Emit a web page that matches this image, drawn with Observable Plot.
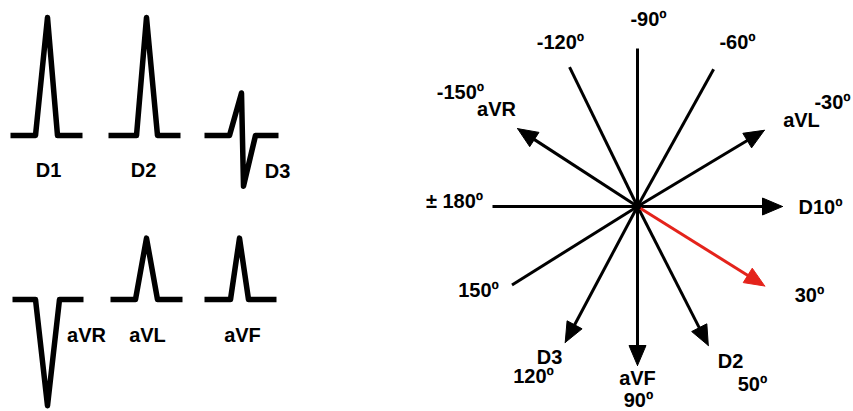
<!DOCTYPE html>
<html><head><meta charset="utf-8">
<script src="https://cdn.jsdelivr.net/npm/d3@7"></script>
<script src="https://cdn.jsdelivr.net/npm/@observablehq/plot@0.6"></script>
<style>body{margin:0;background:#fff;}</style>
</head><body><div id="chart"></div>
<script>
// ---- Data: limb-lead QRS complexes (time steps and relative amplitudes) ----
const waveLeads = ["D1", "D2", "D3", "aVR", "aVL", "aVF"];
const waveTimes = [
  [0, 25, 37, 47, 72],
  [0, 28, 38, 49, 72],
  [0, 25, 37, 39, 51, 74],
  [0, 23, 35, 47, 71],
  [0, 25, 36, 47, 72],
  [0, 26, 35, 44, 72]
];
const waveAmps = [
  [0, 0, 1.0, 0, 0],
  [0, 0, 1.0, 0, 0],
  [0, 0, 0.36, -0.43, 0, 0],
  [0, 0, -0.9, 0, 0],
  [0, 0, 0.52, 0, 0],
  [0, 0, 0.52, 0, 0]
];

// ---- Data: hexaxial reference system (drawn angle in degrees, length, arrow?) ----
const axisAngles  = [-90, -116, -61, -147, -31, 180, 0, 148, 118, 90, 63];
const axisLengths = [158, 155, 157, 143, 148, 145, 145, 148, 154, 159, 156];
const axisArrow   = [false, false, false, true, true, false, true, false, true, true, true];
const qrsAxisAngle = 32;
const qrsAxisLength = 150;

// ---- Data: text labels ----
const axisTexts = ["-90º", "-120º", "-60º", "-150º", "aVR", "aVL", "-30º", "± 180º", "D10º",
                   "150º", "D3", "120º", "aVF", "90º", "D2", "50º", "30º"];

// ---- Layout (pixels) ----
const W = 853, H = 411;
const waveOrigins = [[10, 135], [108, 135], [204, 135], [12, 299], [110, 299], [204, 299]];
const ampScale = 118;
const waveLabelPos = [[48, 170], [143, 170], [277, 171], [86, 335], [147, 335], [242, 335]];
const center = [637, 206];
const axisLabelPos = [[648, 19], [560, 42], [737, 42], [460, 92], [496, 109], [801, 120], [832, 102],
                      [454, 201], [820, 207], [478, 290], [549, 357], [533, 376], [637, 378],
                      [638, 400], [730, 361], [752, 384], [809, 295]];
const headLen = 20, headHalf = 8.5;
const red = "#e4231b";

// ---- Build mark data ----
const wavePts = [];
waveLeads.forEach((lead, i) => {
  waveTimes[i].forEach((t, j) => {
    wavePts.push({lead, x: waveOrigins[i][0] + t, y: waveOrigins[i][1] - waveAmps[i][j] * ampScale});
  });
});
const waveLabels = waveLeads.map((lead, i) => ({text: lead, x: waveLabelPos[i][0], y: waveLabelPos[i][1]}));

function polar(a, r) {
  const rad = a * Math.PI / 180;
  return [center[0] + r * Math.cos(rad), center[1] + r * Math.sin(rad)];
}
function head(id, a, L) {
  const rad = a * Math.PI / 180;
  const [tx, ty] = polar(a, L);
  const [bx, by] = polar(a, L - headLen);
  const px = -Math.sin(rad) * headHalf, py = Math.cos(rad) * headHalf;
  return [
    {id, x: tx, y: ty}, {id, x: bx + px, y: by + py}, {id, x: bx - px, y: by - py}, {id, x: tx, y: ty}
  ];
}
const axisSegs = [], axisHeads = [];
axisAngles.forEach((a, i) => {
  const L = axisArrow[i] ? axisLengths[i] - headLen + 3 : axisLengths[i];
  const [ex, ey] = polar(a, L);
  axisSegs.push({id: i, x: center[0], y: center[1]}, {id: i, x: ex, y: ey});
  if (axisArrow[i]) axisHeads.push(...head(i, a, axisLengths[i]));
});
const qrsEnd = polar(qrsAxisAngle, qrsAxisLength - headLen + 3);
const qrsSeg = [{x: center[0], y: center[1]}, {x: qrsEnd[0], y: qrsEnd[1]}];
const qrsHead = head("qrs", qrsAxisAngle, qrsAxisLength);
const axisLabels = axisTexts.map((t, i) => ({text: t, x: axisLabelPos[i][0], y: axisLabelPos[i][1]}));

const chart = Plot.plot({
  width: W, height: H, margin: 0,
  x: {domain: [0, W], range: [0, W], axis: null},
  y: {domain: [0, H], range: [0, H], axis: null},
  style: {background: "white", fontFamily: "'Liberation Sans', Arial, sans-serif"},
  marks: [
    Plot.line(wavePts, {x: "x", y: "y", z: "lead", stroke: "black", strokeWidth: 5.5,
      strokeLinejoin: "round", strokeLinecap: "butt"}),
    Plot.text(waveLabels, {x: "x", y: "y", text: "text", fontSize: 20, fontWeight: "bold", fill: "black"}),
    Plot.line(axisSegs, {x: "x", y: "y", z: "id", stroke: "black", strokeWidth: 3, strokeLinecap: "butt"}),
    Plot.line(axisHeads, {x: "x", y: "y", z: "id", fill: "black", stroke: "black", strokeWidth: 1}),
    Plot.line(qrsSeg, {x: "x", y: "y", stroke: red, strokeWidth: 3, strokeLinecap: "butt"}),
    Plot.line(qrsHead, {x: "x", y: "y", z: "id", fill: red, stroke: red, strokeWidth: 1}),
    Plot.dot([{x: center[0], y: center[1]}], {x: "x", y: "y", r: 3.5, fill: "black"}),
    Plot.text(axisLabels, {x: "x", y: "y", text: "text", fontSize: 20, fontWeight: "bold", fill: "black"})
  ]
});
document.getElementById("chart").appendChild(chart);
</script>
</body></html>
